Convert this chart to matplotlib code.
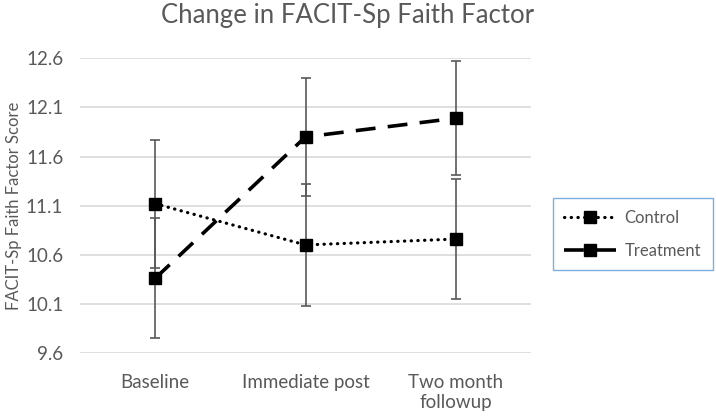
import matplotlib
matplotlib.use("Agg")
import matplotlib.pyplot as plt
import numpy as np

plt.rcParams["font.family"] = ["Lato", "DejaVu Sans"]

categories = ["Baseline", "Immediate post", "Two month\nfollowup"]
control = [11.12, 10.70, 10.76]
control_err = [0.65, 0.62, 0.61]
treatment = [10.36, 11.80, 11.99]
treatment_err = [0.61, 0.60, 0.58]
yticks = [9.6, 10.1, 10.6, 11.1, 11.6, 12.1, 12.6]

grey = "#595959"

fig = plt.figure(figsize=(7.16, 4.18), dpi=100)
ax = fig.add_axes([0.1117, 0.1555, 0.63, 0.705])

x = np.arange(len(categories))

ax.errorbar(x, control, yerr=control_err, fmt="none", ecolor=grey,
            elinewidth=1.2, capsize=3.5, capthick=1.2, zorder=2)
ax.errorbar(x, treatment, yerr=treatment_err, fmt="none", ecolor=grey,
            elinewidth=1.2, capsize=3.5, capthick=1.2, zorder=2)

ax.plot(x, control, color="black", linewidth=2.3, dashes=(0.1, 2.0),
        dash_capstyle="round", marker="s", markersize=8.5, label="Control", zorder=3)
ax.plot(x, treatment, color="black", linewidth=2.6, dashes=(5.5, 3.4),
        marker="s", markersize=8.5, label="Treatment", zorder=3)

ax.set_xlim(-0.5, 2.5)
ax.set_ylim(9.6, 12.6)
ax.set_yticks(yticks)
ax.set_yticklabels(["%.1f" % v for v in yticks])
ax.set_xticks(x)
ax.set_xticklabels(categories, linespacing=1.25)
ax.grid(axis="y", color="#d9d9d9", linewidth=1.2)
ax.set_axisbelow(True)
for s in ax.spines.values():
    s.set_visible(False)
ax.tick_params(axis="both", length=0, colors=grey, labelsize=13.5)
ax.tick_params(axis="y", pad=12)
ax.tick_params(axis="x", pad=15)

# y label placed by hand so it stays inside the figure
fig.text(0.019, 0.5 * (0.1555 + 0.8605), "FACIT-Sp Faith Factor Score", rotation=90,
         ha="center", va="center", color=grey, fontsize=12)
fig.text(0.486, 0.962, "Change in FACIT-Sp Faith Factor", ha="center", va="center",
         color=grey, fontsize=18.5)

leg = ax.legend(loc="center left", bbox_to_anchor=(0.772, 0.439),
                bbox_transform=fig.transFigure, fancybox=False, fontsize=12,
                handlelength=3.1, borderpad=0.7, labelspacing=1.0,
                borderaxespad=0, handletextpad=0.5)
leg.get_frame().set_edgecolor("#5b9bd5")
leg.get_frame().set_linewidth(1.0)
for t in leg.get_texts():
    t.set_color(grey)

fig.savefig("out.png", dpi=100)
